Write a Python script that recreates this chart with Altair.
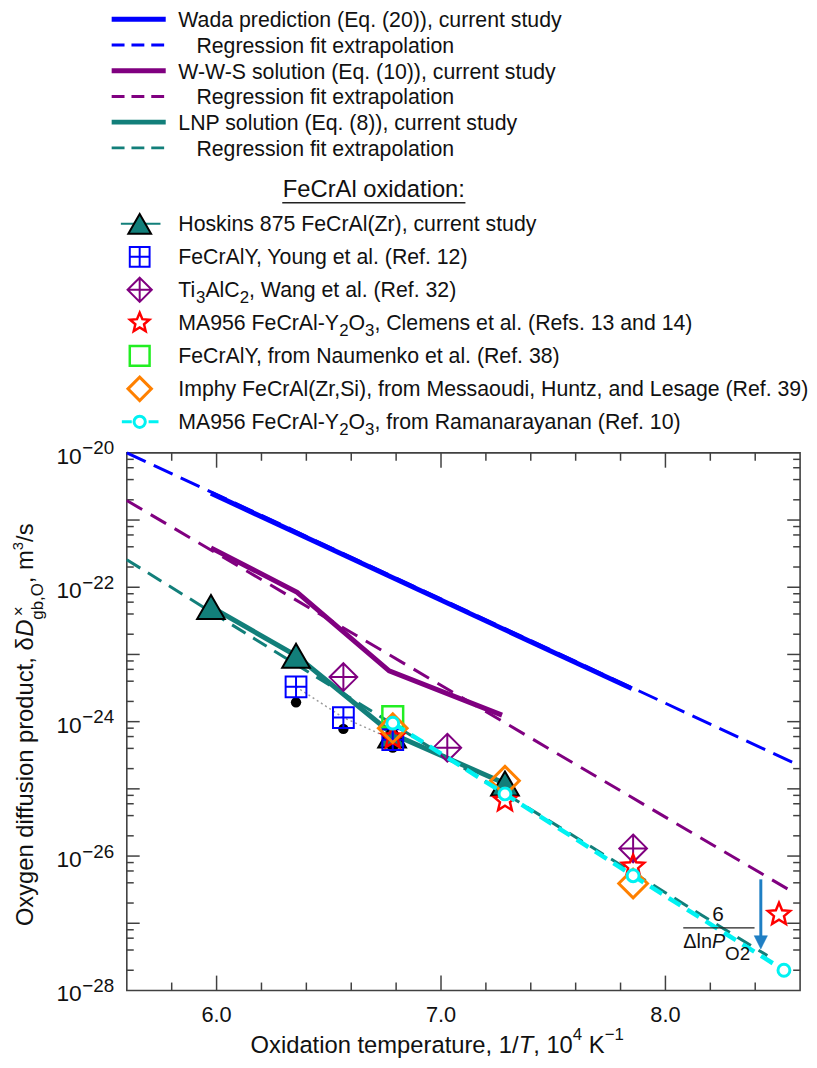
import altair as alt
import pandas as pd

# ------------------------------------------------------------------ data
wada_x = [5.975, 7.85]
wada_y = [2.5e-21, 3.1e-24]
wada_fit_x = [5.6, 8.6]
wada_fit_y = [1.0e-20, 2.2e-25]

wws_x = [5.975, 6.359, 6.769, 7.272]
wws_y = [3.85e-22, 8.4e-23, 5.7e-24, 1.25e-24]
wws_fit_x = [5.6, 8.565]
wws_fit_y = [1.95e-21, 2.95e-27]

lnp_x = [5.975, 6.354, 6.782, 7.285]
lnp_y = [5.1e-23, 9.6e-24, 6.6e-25, 1.2e-25]
lnp_fit_x = [5.6, 8.454]
lnp_fit_y = [2.56e-22, 3.3e-28]

hoskins_x = [5.975, 6.354, 6.782, 7.285]
hoskins_y = [5.1e-23, 9.6e-24, 6.2e-25, 1.2e-25]
young_x = [6.354, 6.565, 6.785]
young_y = [3.3e-24, 1.15e-24, 5.4e-25]
young_dot_y = [1.94e-24, 7.8e-25, 4.1e-25]
wang_x = [6.565, 7.028, 7.856]
wang_y = [4.6e-24, 4.1e-25, 1.3e-26]
clemens_x = [6.785, 7.285, 7.856, 8.506]
clemens_y = [5.8e-25, 6.7e-26, 7.0e-27, 1.35e-27]
naumenko_x = [6.785]
naumenko_y = [1.19e-24]
imphy_x = [6.785, 7.285, 7.856]
imphy_y = [8.0e-25, 1.32e-25, 3.9e-27]
rama_x = [6.785, 7.285, 7.856, 8.528]
rama_y = [9.5e-25, 8.4e-26, 5.1e-27, 2.0e-28]

arrow_x = [8.425, 8.425]
arrow_y = [4.5e-27, 6.3e-28]
arrow_head_x = [8.425]
arrow_head_y = [5.2e-28]

x_tick_values = [6.0, 7.0, 8.0]
x_tick_labels = ["6.0", "7.0", "8.0"]
x_minor_values = [5.8, 6.2, 6.4, 6.6, 6.8, 7.2, 7.4, 7.6, 7.8, 8.2, 8.4]
y_label_values = [1e-20, 1e-22, 1e-24, 1e-26, 1e-28]
y_label_exps = ["\u221220", "\u221222", "\u221224", "\u221226", "\u221228"]
y_decades = list(range(-28, -19))
y_minor_mult = [2, 4, 6, 8]

line_legend_labels = [
    "Wada prediction (Eq. (20)), current study",
    "Regression fit extrapolation",
    "W-W-S solution (Eq. (10)), current study",
    "Regression fit extrapolation",
    "LNP solution (Eq. (8)), current study",
    "Regression fit extrapolation",
]
legend_header = "FeCrAl oxidation:"
marker_legend_labels = [
    [("Hoskins 875 FeCrAl(Zr), current study", "n")],
    [("FeCrAlY, Young et al. (Ref. 12)", "n")],
    [("Ti", "n"), ("3", "sub"), ("AlC", "n"), ("2", "sub"), (", Wang et al. (Ref. 32)", "n")],
    [("MA956 FeCrAl-Y", "n"), ("2", "sub"), ("O", "n"), ("3", "sub"),
     (", Clemens et al. (Refs. 13 and 14)", "n")],
    [("FeCrAlY, from Naumenko et al. (Ref. 38)", "n")],
    [("Imphy FeCrAl(Zr,Si), from Messaoudi, Huntz, and Lesage (Ref. 39)", "n")],
    [("MA956 FeCrAl-Y", "n"), ("2", "sub"), ("O", "n"), ("3", "sub"),
     (", from Ramanarayanan (Ref. 10)", "n")],
]
x_title = [("Oxidation temperature, 1/", "n"), ("T", "i"), (", 10", "n"), ("4", "sup"),
           (" K", "n"), ("\u22121", "sup")]
y_title = [("Oxygen diffusion product, \u03b4", "n"), ("D", "i"), ("gb,O", "sub"),
           (", m", "n"), ("3", "sup"), ("/s", "n")]
y_title_mark = "\u00d7"
frac_num = "6"
frac_den = [("\u0394ln", "n"), ("P", "i"), ("O2", "sub")]

# ------------------------------------------------------------------ style
FONT = "Liberation Sans"
TEXT_C = "#111111"
AXIS_C = "#404040"
BLUE, PURPLE, TEAL = "#0000ff", "#800080", "#127f7a"
RED, GREEN, ORANGE, CYAN = "#ff0000", "#22ee22", "#ff8000", "#00f2f2"
ARROW_C = "#1f7fc4"
W, H = 680, 543
LEG_FS = 21.5

STAR = ("M0,-1L0.265,-0.364L0.951,-0.309L0.428,0.139L0.588,0.809L0,0.45"
        "L-0.588,0.809L-0.428,0.139L-0.951,-0.309L-0.265,-0.364Z")
SQPLUS = "M-1,-1H1V1H-1Z M0,-1V1 M-1,0H1"
DIAPLUS = "M0,-1L1,0L0,1L-1,0Z M0,-1V1 M-1,0H1"
SQ = "M-1,-1H1V1H-1Z"
DIA = "M0,-1L1,0L0,1L-1,0Z"
TRI_DOWN = "M-1,-1L1,-1L0,1Z"

CW = {" ": 278, "(": 333, ")": 333, ",": 278, "-": 333, ".": 278, "/": 278, ":": 278,
      "\u03b4": 556, "\u0394": 668, "\u00d7": 584, "\u2212": 584}
for ch in "0123456789":
    CW[ch] = 556
CW.update(dict(A=667, B=667, C=722, D=722, E=667, F=611, G=778, H=722, I=278, J=500,
               K=667, L=556, M=833, N=722, O=778, P=667, Q=778, R=722, S=667, T=611,
               U=722, V=667, W=944, X=667, Y=667, Z=611))
CW.update(dict(a=556, b=556, c=500, d=556, e=556, f=278, g=556, h=556, i=222, j=222,
               k=500, l=222, m=833, n=556, o=556, p=556, q=556, r=333, s=500, t=278,
               u=556, v=500, w=722, x=500, y=500, z=500))


def tw(s, fs):
    return sum(CW.get(c, 556) for c in s) * fs / 1000.0


def rich(segs, x0, y0, sizes, vertical=False):
    rows, pos = [], 0.0
    for txt, kind in segs:
        fs, shift = sizes[kind]
        lead = len(txt) - len(txt.lstrip(" "))
        core = txt.strip(" ")
        if core:
            a = pos + tw(" " * lead, fs)
            if vertical:
                rows.append(dict(x=x0 + shift, y=y0 - a, t=core, fs=fs, it=(kind == "i")))
            else:
                rows.append(dict(x=x0 + a, y=y0 + shift, t=core, fs=fs, it=(kind == "i")))
        pos += tw(txt, fs)
    return rows


XS = alt.Scale(domain=[5.6, 8.6], nice=False, zero=False)
YS = alt.Scale(type="log", domain=[1e-28, 1e-20], nice=False)


def X():
    return alt.X("x:Q", scale=XS, axis=None)


def Y():
    return alt.Y("y:Q", scale=YS, axis=None)


def dfxy(xs, ys):
    return pd.DataFrame({"x": xs, "y": ys})


one = pd.DataFrame({"k": [0]})
layers = []

# ---------------------------------------------------------------- ticks
def xticks(vals, length):
    d = pd.DataFrame({"x": vals})
    out = []
    for y0, y1 in ((H, H - length), (0, length)):
        out.append(alt.Chart(d).mark_rule(color=AXIS_C, strokeWidth=1.5).encode(
            x=X(), y=alt.value(y0), y2=alt.value(y1)))
    return out


def yticks(vals, length):
    d = pd.DataFrame({"y": vals})
    out = []
    for x0, x1 in ((0, length), (W, W - length)):
        out.append(alt.Chart(d).mark_rule(color=AXIS_C, strokeWidth=1.5).encode(
            y=Y(), x=alt.value(x0), x2=alt.value(x1)))
    return out


layers += xticks(x_tick_values, 15)
layers += xticks(x_minor_values, 8)
layers += yticks([10.0 ** n for n in y_decades[1:-1]], 13)
layers += yticks([m * 10.0 ** n for n in y_decades[:-1] for m in y_minor_mult], 7)

# ---------------------------------------------------------------- lines
def line(xs, ys, color, width, dash=None):
    kw = dict(color=color, strokeWidth=width, strokeCap="butt")
    if dash:
        kw["strokeDash"] = dash
    return alt.Chart(dfxy(xs, ys)).mark_line(**kw).encode(x=X(), y=Y())


layers += [
    line(wada_fit_x, wada_fit_y, BLUE, 3, [21, 9]),
    line(wws_fit_x, wws_fit_y, PURPLE, 3, [18, 10]),
    line(lnp_fit_x, lnp_fit_y, TEAL, 3, [16, 9]),
    line(wada_x, wada_y, BLUE, 5),
    line(wws_x, wws_y, PURPLE, 5),
    line(lnp_x, lnp_y, TEAL, 5),
    line(young_x, young_y, "#9a9a9a", 1.5, [2, 3]),
]

# ---------------------------------------------------------------- markers
def pts(xs, ys, shape, size, stroke, sw, fill="transparent"):
    return alt.Chart(dfxy(xs, ys)).mark_point(
        shape=shape, size=size, stroke=stroke, strokeWidth=sw, fill=fill,
        filled=(fill != "transparent"), opacity=1, fillOpacity=1, strokeOpacity=1
    ).encode(x=X(), y=Y())


layers += [
    pts(hoskins_x, hoskins_y, "triangle-up", 784, "black", 2, TEAL),
    alt.Chart(dfxy(young_x, young_dot_y)).mark_circle(size=110, color="black", opacity=1)
    .encode(x=X(), y=Y()),
    pts(young_x, young_y, SQPLUS, 441, BLUE, 2),
    pts(wang_x, wang_y, DIAPLUS, 784, PURPLE, 2),
    pts(clemens_x, clemens_y, STAR, 560, RED, 2.5),
    pts(naumenko_x, naumenko_y, SQ, 441, GREEN, 2.5),
    pts(imphy_x, imphy_y, DIA, 841, ORANGE, 3),
    line(rama_x, rama_y, CYAN, 4.5, [14, 8]),
    pts(rama_x, rama_y, "circle", 144, CYAN, 3, "white"),
]

# ---------------------------------------------------------------- arrow + fraction
layers += [
    line(arrow_x, arrow_y, ARROW_C, 3),
    alt.Chart(dfxy(arrow_head_x, arrow_head_y)).mark_point(
        shape=TRI_DOWN, size=180, filled=True, fill=ARROW_C, stroke=ARROW_C,
        strokeWidth=0.5, opacity=1).encode(x=X(), y=Y()),
    alt.Chart(one).mark_rule(color="#222222", strokeWidth=1.3).encode(
        x=alt.value(562), x2=alt.value(634), y=alt.value(479.7)),
]

# ---------------------------------------------------------------- legend symbols
def hrule(x0, x1, y, color, width, dash=None):
    kw = dict(color=color, strokeWidth=width, strokeCap="butt")
    if dash:
        kw["strokeDash"] = dash
    return alt.Chart(one).mark_rule(**kw).encode(
        x=alt.value(x0), x2=alt.value(x1), y=alt.value(y))


line_styles = [(BLUE, 5, None), (BLUE, 3, [13, 7]), (PURPLE, 5, None),
               (PURPLE, 3, [13, 7]), (TEAL, 5, None), (TEAL, 3, [13, 7])]
text_rows = []
for i, lab in enumerate(line_legend_labels):
    base = -430 + 26 * i
    c, w_, dsh = line_styles[i]
    layers.append(hrule(-15.3, 39.3, base - 8, c, w_, dsh))
    text_rows += rich([(lab, "n")], 52 if i % 2 == 0 else 70.3, base,
                      {"n": (LEG_FS, 0)})

marker_styles = [("triangle-up", 529, "black", 2, TEAL), (SQPLUS, 400, BLUE, 2, "transparent"),
                 (DIAPLUS, 600, PURPLE, 2, "transparent"), (STAR, 420, RED, 2.5, "transparent"),
                 (SQ, 400, GREEN, 2.5, "transparent"), (DIA, 560, ORANGE, 3, "transparent"),
                 ("circle", 130, CYAN, 3, "white")]
leg_sizes = {"n": (LEG_FS, 0), "i": (LEG_FS, 0), "sub": (17, 6), "sup": (17, -8)}
for j, segs in enumerate(marker_legend_labels):
    base = -224.3 + 33.33 * j
    sy = base - 7
    shp, sz, stc, sw, fl = marker_styles[j]
    if j == 0:
        layers.append(hrule(-6, 34, sy, TEAL, 2))
    if j == 6:
        layers.append(hrule(-5, 32, sy, CYAN, 3, [10, 17]))
    layers.append(alt.Chart(one).mark_point(
        shape=shp, size=sz, stroke=stc, strokeWidth=sw, fill=fl,
        filled=(fl != "transparent"), opacity=1, fillOpacity=1).encode(
        x=alt.value(13), y=alt.value(sy)))
    text_rows += rich(segs, 52, base, leg_sizes)

layers.append(hrule(157, 342, -252.7, "#222222", 1.5))

# ---------------------------------------------------------------- texts
text_rows += rich(x_title, 125, 606, {"n": (24, 0), "i": (24, 0), "sup": (17, -13)})
text_rows += rich(frac_den, 562, 499.7, {"n": (20, 0), "i": (20, 0), "sub": (19, 13)})
vert_rows = rich(y_title, -94.7, 478,
                 {"n": (24, 0), "i": (24, 0), "sub": (17, 10), "sup": (15, -10)},
                 vertical=True)
vert_rows.append(dict(x=-104, y=165, t=y_title_mark, fs=17, it=False))


def text_layer(rows, italic=False, angle=0, align="left"):
    d = pd.DataFrame(rows)
    kw = dict(align=align, baseline="alphabetic", font=FONT, color=TEXT_C)
    if italic:
        kw["fontStyle"] = "italic"
    if angle:
        kw["angle"] = angle
    return alt.Chart(d).mark_text(**kw).encode(
        x=alt.X("x:Q", scale=None, axis=None), y=alt.Y("y:Q", scale=None, axis=None),
        text="t:N", size=alt.Size("fs:Q", scale=None))


for rows, ang in ((text_rows, 0), (vert_rows, 270)):
    nrm = [r for r in rows if not r["it"]]
    itl = [r for r in rows if r["it"]]
    if nrm:
        layers.append(text_layer(nrm, False, ang))
    if itl:
        layers.append(text_layer(itl, True, ang))

layers.append(text_layer([dict(x=249.5, y=-258, t=legend_header, fs=24, it=False),
                          dict(x=597, y=473, t=frac_num, fs=21, it=False)], align="center"))

# tick labels
layers.append(alt.Chart(pd.DataFrame({"x": x_tick_values, "t": x_tick_labels})).mark_text(
    align="center", baseline="alphabetic", font=FONT, fontSize=22, color=TEXT_C).encode(
    x=X(), y=alt.value(575), text="t:N"))
layers.append(alt.Chart(pd.DataFrame({"y": y_label_values, "t": ["10"] * len(y_label_values)}))
              .mark_text(align="right", baseline="alphabetic", font=FONT, fontSize=23,
                         color=TEXT_C, dy=11).encode(y=Y(), x=alt.value(-45.5), text="t:N"))
layers.append(alt.Chart(pd.DataFrame({"y": y_label_values, "t": y_label_exps}))
              .mark_text(align="left", baseline="alphabetic", font=FONT, fontSize=19,
                         color=TEXT_C, dy=1.5).encode(y=Y(), x=alt.value(-45), text="t:N"))

chart = alt.layer(*layers).properties(
    width=W, height=H,
    padding={"left": 120, "top": 444, "right": 9, "bottom": 70},
    autosize=alt.AutoSizeParams(type="none"),
    background="white",
).configure_view(stroke=AXIS_C, strokeWidth=1.6)

chart.save("out.html", embed_options={"renderer": "svg", "actions": False})
